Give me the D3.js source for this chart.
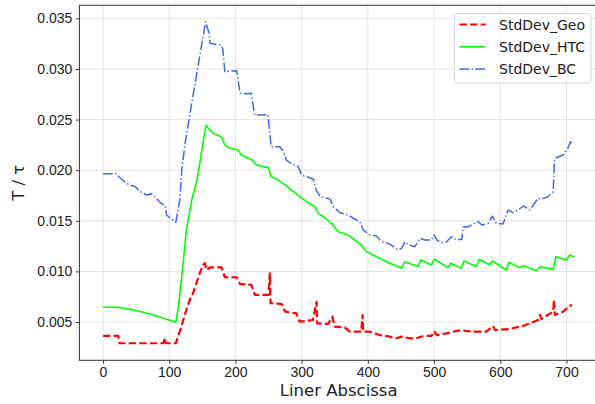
<!DOCTYPE html>
<html>
  <head>
    <meta charset="utf-8">
    <title>StdDev along liner</title>
    <style>
      body { margin: 0; background: #fff; }
      svg { display: block; font-family: "DejaVu Sans", sans-serif; }
      .axis path, .axis line { stroke: #333; }
      .axis text { fill: #222; font-size: 14px; }
      .grid line { stroke: #e2e2e2; stroke-width: 1; }
    </style>
  </head>
  <body>
    <div id="chart"></div>
    <script src="https://d3js.org/d3.v7.min.js"></script>
    <script>
      // values: [abscissa, std dev]
      const geo = [
        [0,0.00362],[23,0.00362],[25,0.0029],[91,0.0029],[93.5,0.0034],[95,0.0029],[110,0.0029],
        [116,0.00404],[124,0.0058],[131,0.00717],[136,0.00784],[146,0.0098],[151,0.01063],[154,0.0108],
        [156.5,0.01014],[161.5,0.0104],[179,0.0104],[184,0.00942],[202,0.00942],[207,0.00875],
        [224,0.00866],[229.5,0.00767],[250,0.00767],[252,0.00981],[253,0.00685],[270,0.00678],
        [275,0.00602],[292,0.00586],[297,0.00503],[317,0.0052],[322.5,0.007],[323.5,0.00487],
        [340,0.0048],[346.5,0.00552],[350,0.00454],[365,0.00447],[373,0.00404],[390,0.00404],
        [392,0.00569],[393,0.00404],[403,0.00404],[418,0.00371],[433,0.00355],[443,0.00339],
        [451,0.00355],[463,0.00339],[473,0.00339],[484,0.00362],[496,0.00362],[500,0.00411],
        [504,0.00371],[519,0.00388],[529,0.00404],[536,0.00414],[544,0.00414],[549,0.00411],
        [564,0.00404],[579,0.00404],[589,0.0046],[592,0.00421],[614,0.00431],[624,0.00447],
        [634,0.0046],[642,0.0048],[657,0.0052],[660,0.00569],[662,0.0053],[680,0.00602],
        [681,0.00717],[682.5,0.00569],[695,0.00602],[705,0.00658],[708,0.0067]
      ];
      const htc = [
        [0,0.00645],[23,0.00645],[35,0.0063],[51,0.00612],[71,0.00579],[90,0.0054],[110,0.00497],
        [114,0.00651],[121,0.0108],[126,0.0141],[134,0.01705],[142,0.019],[155.5,0.02446],
        [159,0.02414],[166,0.02364],[175,0.0234],[179,0.02331],[184,0.02249],[190,0.0222],
        [197,0.02209],[204,0.022],[209,0.0215],[218,0.0212],[224,0.02107],[232,0.02051],
        [245,0.0203],[250,0.02025],[254,0.01936],[265,0.019],[275,0.01854],[285,0.018],
        [297,0.01738],[310,0.0168],[320,0.01639],[325,0.01574],[335,0.0153],[345,0.01475],
        [355,0.01392],[370,0.0136],[380,0.0131],[390,0.01261],[398,0.01195],[413,0.01145],
        [433,0.0108],[451,0.0103],[456,0.01096],[476,0.01046],[480,0.01113],[496,0.01063],
        [500,0.0112],[521,0.01037],[525,0.0108],[541,0.0103],[545,0.01103],[564,0.01046],
        [568,0.0112],[584,0.01063],[588,0.01103],[609,0.01014],[613,0.0109],[629,0.01037],
        [635,0.01056],[655,0.01007],[660,0.01046],[680,0.0102],[684,0.01145],[700,0.01113],
        [705,0.01162],[712,0.01139]
      ];
      const bc = [
        [0,0.01965],[20,0.01965],[24,0.01935],[30,0.019],[36,0.0187],[40,0.01855],[48,0.0184],
        [56,0.0179],[64,0.0176],[68,0.01755],[73,0.0177],[78,0.0174],[88,0.0167],[94,0.01656],
        [96,0.01557],[110,0.01485],[116,0.01705],[119,0.02],[124,0.02266],[135,0.027],[146,0.0312],
        [155,0.03467],[158,0.034],[160,0.0336],[162,0.03254],[172,0.0324],[177,0.03237],[181,0.032],
        [184,0.02973],[195,0.0298],[202,0.02983],[207,0.0276],[218,0.02755],[224,0.0276],
        [229,0.02545],[240,0.02545],[249,0.0255],[254,0.02232],[267,0.02232],[272,0.0219],
        [277,0.021],[285,0.0206],[292,0.0205],[295,0.02034],[300,0.01952],[310,0.0193],[318,0.0191],
        [322,0.01804],[328,0.01738],[340,0.0172],[343,0.01712],[348,0.01639],[358,0.0158],
        [370,0.01557],[378,0.01525],[388,0.01491],[393,0.01409],[403,0.0136],[413,0.0135],
        [421,0.01293],[433,0.0127],[446,0.01211],[451,0.01228],[456,0.01293],[461,0.01261],
        [471,0.01244],[479,0.01327],[486,0.0131],[496,0.0131],[500,0.0136],[504,0.0131],
        [511,0.01283],[519,0.01293],[526,0.01343],[534,0.0131],[542,0.01317],[544,0.01442],
        [552,0.01442],[559,0.01468],[567,0.01491],[572,0.01458],[582,0.01475],[588,0.01547],
        [594,0.01475],[604,0.01468],[612,0.01607],[619,0.0158],[627,0.01607],[635,0.01646],
        [645,0.01607],[657,0.01722],[662,0.01712],[672,0.01738],[680,0.01787],[682,0.02117],
        [695,0.0215],[702,0.02216],[706,0.02281],[708,0.02266]
      ];
      const seriesNames = ["StdDev_Geo", "StdDev_HTC", "StdDev_BC"];
      const xTicks = [0, 100, 200, 300, 400, 500, 600, 700];
      const yTicks = [0.005, 0.010, 0.015, 0.020, 0.025, 0.030, 0.035];

      const W = 595, H = 404;
      const margin = { top: 5.3, left: 79.4 };
      const width = 598 - margin.left;
      const height = 360.3 - margin.top;

      const x = d3.scaleLinear().domain([-35.6, 747.6]).range([0, width]);
      const y = d3.scaleLinear().domain([0.001215, 0.03629]).range([height, 0]);

      const svg = d3.select("#chart").append("svg")
        .attr("width", W).attr("height", H);
      const g = svg.append("g")
        .attr("transform", `translate(${margin.left},${margin.top})`);

      // grid
      g.append("g").attr("class", "grid")
        .selectAll("line.v").data(xTicks).join("line")
        .attr("x1", d => x(d)).attr("x2", d => x(d))
        .attr("y1", 0).attr("y2", height);
      g.append("g").attr("class", "grid")
        .selectAll("line.h").data(yTicks).join("line")
        .attr("x1", 0).attr("x2", width)
        .attr("y1", d => y(d)).attr("y2", d => y(d));

      // lines
      const line = d3.line().x(d => x(d[0])).y(d => y(d[1]));
      const styles = [
        { data: geo, color: "#ff0000", w: 2.2, dash: "7.4,3.2" },
        { data: htc, color: "#00ff00", w: 1.6, dash: null },
        { data: bc, color: "#4169e1", w: 1.5, dash: "9.6,2.4,1.5,2.4" }
      ];
      styles.forEach(s => {
        g.append("path")
          .datum(s.data)
          .attr("fill", "none")
          .attr("stroke", s.color)
          .attr("stroke-width", s.w)
          .attr("stroke-dasharray", s.dash)
          .attr("stroke-linejoin", "round")
          .attr("d", line);
      });

      // frame
      g.append("rect")
        .attr("width", width).attr("height", height)
        .attr("fill", "none").attr("stroke", "#333").attr("stroke-width", 1);

      // axes
      g.append("g").attr("class", "axis")
        .attr("transform", `translate(0,${height})`)
        .call(d3.axisBottom(x).tickValues(xTicks).tickSize(3.5).tickPadding(3.5))
        .call(a => a.select(".domain").remove());
      g.append("g").attr("class", "axis")
        .call(d3.axisLeft(y).tickValues(yTicks).tickFormat(d3.format(".3f")).tickSize(3.5).tickPadding(3.5))
        .call(a => a.select(".domain").remove());

      // axis labels
      svg.append("text")
        .attr("x", margin.left + width / 2).attr("y", 396)
        .attr("text-anchor", "middle")
        .attr("font-size", 16.5).attr("fill", "#222")
        .text("Liner Abscissa");
      svg.append("text")
        .attr("transform", `translate(24,${margin.top + height / 2}) rotate(-90)`)
        .attr("text-anchor", "middle")
        .attr("font-size", 16.5).attr("fill", "#222")
        .text("T / τ");

      // legend
      const lg = svg.append("g").attr("transform", "translate(454.5,13.5)");
      lg.append("rect")
        .attr("width", 136.5).attr("height", 69.5).attr("rx", 3)
        .attr("fill", "rgba(255,255,255,0.8)")
        .attr("stroke", "#d6d6d6").attr("stroke-width", 1);
      styles.forEach((s, i) => {
        const cy = 11 + i * 22.3;
        lg.append("line")
          .attr("x1", 5).attr("x2", 31).attr("y1", cy).attr("y2", cy)
          .attr("stroke", s.color).attr("stroke-width", s.w)
          .attr("stroke-dasharray", s.dash);
        lg.append("text")
          .attr("x", 44.5).attr("y", cy + 5)
          .attr("font-size", 14).attr("fill", "#222")
          .text(seriesNames[i]);
      });
    </script>
  </body>
</html>
